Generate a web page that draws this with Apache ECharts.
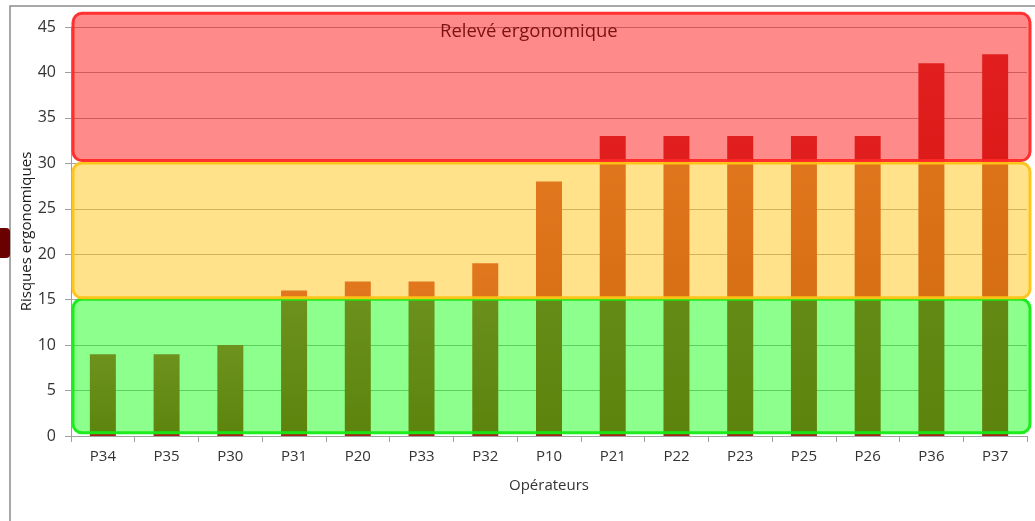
<!DOCTYPE html>
<html>
<head>
<meta charset="utf-8">
<script src="https://cdn.jsdelivr.net/npm/echarts@6/dist/echarts.min.js"></script>
<style>
  html, body { margin: 0; padding: 0; background: #fff; }
  #chart { width: 1035px; height: 521px; }
</style>
</head>
<body>
<div id="chart"></div>
<script>
// données
const operateurs = ["P34", "P35", "P30", "P31", "P20", "P33", "P32", "P10", "P21", "P22", "P23", "P25", "P26", "P36", "P37"];
const risques = [9, 9, 10, 16, 17, 17, 19, 28, 33, 33, 33, 33, 33, 41, 42];
// zones (bas, haut) en valeur de l'axe
const zoneBas = [0.35, 15.2, 30.3];
const zoneHaut = [15.05, 30.05, 46.5];
const yTicks = [0, 45, 5];

// styles des zones : vert, jaune, rouge
const zoneStyles = [
  { fill: "rgba(0,255,0,0.45)", stroke: "rgba(20,235,20,0.95)" },
  { fill: "rgba(255,192,0,0.46)", stroke: "rgba(255,195,20,0.95)" },
  { fill: "rgba(255,0,0,0.46)", stroke: "rgba(255,40,40,0.95)" }
];

const chart = echarts.init(document.getElementById("chart"));

chart.setOption({
  animation: false,
  textStyle: { fontFamily: "Open Sans" },
  graphic: [
    {
      type: "rect",
      shape: { x: 10, y: 6, width: 1100, height: 600 },
      style: { fill: "none", stroke: "#8c8c8c", lineWidth: 1.5 },
      z: 0
    },
    {
      type: "rect",
      shape: { x: -6, y: 228, width: 16, height: 30, r: 4 },
      style: { fill: "#6a0000" },
      z: 0
    },
    {
      type: "text",
      left: 440,
      top: 22,
      style: { text: "Relevé ergonomique", fill: "#7a1212", font: "18.5px 'Open Sans'" },
      z: 100
    }
  ],
  grid: { left: 71, right: 8, top: 27, bottom: 85 },
  xAxis: {
    type: "category",
    data: operateurs,
    name: "Opérateurs",
    nameLocation: "middle",
    nameGap: 42,
    nameTextStyle: { fontSize: 15, color: "#333" },
    axisLine: { lineStyle: { color: "#a0a0a0" } },
    axisTick: { show: true, length: 6, lineStyle: { color: "#a0a0a0" } },
    axisLabel: { fontSize: 15, color: "#333", margin: 13 }
  },
  yAxis: {
    type: "value",
    min: yTicks[0],
    max: yTicks[1],
    interval: yTicks[2],
    name: "Risques ergonomiques",
    nameLocation: "middle",
    nameGap: 37,
    nameMoveOverlap: false,
    nameTextStyle: { fontSize: 15, color: "#1a1a1a" },
    axisLine: { show: true, lineStyle: { color: "#a0a0a0" } },
    axisTick: { show: true, length: 6, lineStyle: { color: "#a0a0a0" } },
    axisLabel: { fontSize: 16, color: "#333", margin: 15 },
    splitLine: { lineStyle: { color: "#a8a8a8" } }
  },
  series: [
    {
      type: "bar",
      data: risques,
      barWidth: 26,
      z: 2,
      itemStyle: {
        color: new echarts.graphic.LinearGradient(0, 0, 0, 1, [
          { offset: 0, color: "#c83a38" },
          { offset: 1, color: "#a82018" }
        ])
      }
    },
    {
      type: "custom",
      z: 10,
      clip: false,
      silent: true,
      data: zoneBas.map((b, i) => [i, b, zoneHaut[i]]),
      encode: { x: 0, y: [1, 2] },
      renderItem: function (params, api) {
        const cs = params.coordSys;
        const yBas = api.coord([0, api.value(1)])[1];
        const yHaut = api.coord([0, api.value(2)])[1];
        const s = zoneStyles[params.dataIndex];
        return {
          type: "rect",
          shape: { x: cs.x + 2, y: yHaut, width: cs.width + 1, height: yBas - yHaut, r: 9 },
          style: { fill: s.fill, stroke: s.stroke, lineWidth: 3 }
        };
      }
    }
  ]
});
</script>
</body>
</html>
